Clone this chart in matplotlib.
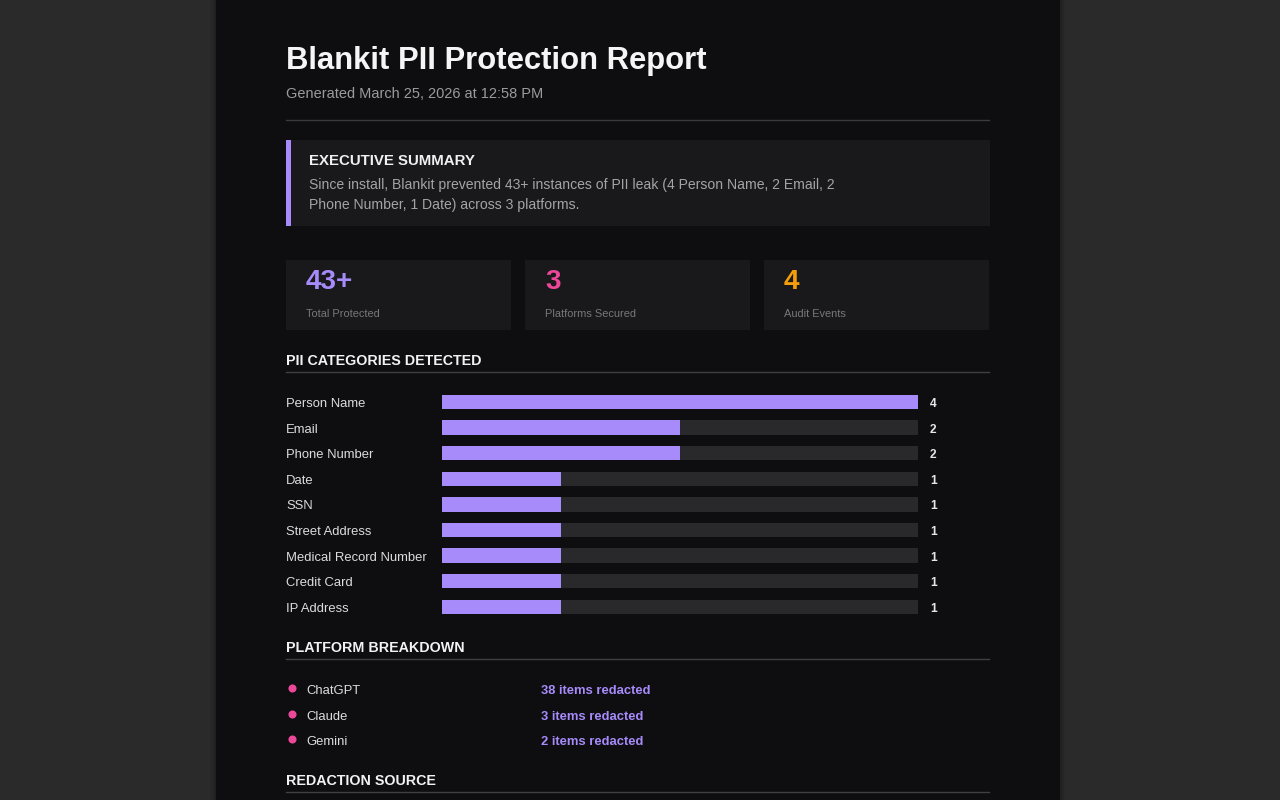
import matplotlib.pyplot as plt
from matplotlib.patches import Rectangle

plt.rcParams['font.family'] = ['Liberation Sans', 'DejaVu Sans']

# data
categories = ['Person Name', 'Email', 'Phone Number', 'Date', 'SSN', 'Street Address',
              'Medical Record Number', 'Credit Card', 'IP Address']
counts = [4, 2, 2, 1, 1, 1, 1, 1, 1]
stat_values = ['43+', '3', '4']
stat_labels = ['Total Protected', 'Platforms Secured', 'Audit Events']
platforms = ['ChatGPT', 'Claude', 'Gemini']
platform_items = [38, 3, 2]

# colours
OUTER = '#2a2a2a'
PANEL = '#0e0e11'
CARD = '#19191c'
PURPLE = '#a78bfa'
PINK = '#ec4899'
ORANGE = '#f59e0b'
TRACK = '#29292c'

W, H = 1280, 800
DY = 2  # small nudge so text centres sit where the browser put them
fig = plt.figure(figsize=(12.8, 8), dpi=100, facecolor=OUTER)
ax = fig.add_axes([0, 0, 1, 1])
ax.set_xlim(0, W)
ax.set_ylim(H, 0)
ax.axis('off')

def px(s):
    # css px -> points at 100 dpi
    return s * 0.72

def txt(x, y, s, size, color, bold=False):
    ax.text(x, y + DY, s, fontsize=px(size), color=color, va='center',
            fontweight='bold' if bold else 'normal')

# page panel with soft edge
for i, a in enumerate([0.10, 0.07, 0.04]):
    ax.add_patch(Rectangle((216 - 2 - 2 * i, 0), 844 + 4 + 4 * i, H, color='black', alpha=a, lw=0))
ax.add_patch(Rectangle((216, 0), 844, H, color=PANEL, lw=0))

L, R = 286, 989

# header
txt(L, 59, 'Blankit PII Protection Report', 31, '#f5f5f5', bold=True)
txt(L, 92, 'Generated March 25, 2026 at 12:58 PM', 14.5, '#9b9b9f')
ax.plot([L, R], [120, 120], color='#3a3a3e', lw=1)

# executive summary
ax.add_patch(Rectangle((L, 140), R - L + 1, 86, color=CARD, lw=0))
ax.add_patch(Rectangle((L, 140), 5, 86, color=PURPLE, lw=0))
txt(309, 159, 'EXECUTIVE SUMMARY', 15, '#f0f0f0', bold=True)
txt(309, 183, 'Since install, Blankit prevented 43+ instances of PII leak (4 Person Name, 2 Email, 2',
    14, '#a3a3a8')
txt(309, 203, 'Phone Number, 1 Date) across 3 platforms.', 14, '#a3a3a8')

# stat cards
card_x = [286, 525, 764]
stat_colors = [PURPLE, PINK, ORANGE]
for x0, v, lab, c in zip(card_x, stat_values, stat_labels, stat_colors):
    ax.add_patch(Rectangle((x0, 260), 225, 70, color=CARD, lw=0))
    txt(x0 + 20, 280, v, 28, c, bold=True)
    txt(x0 + 20, 312, lab, 11, '#77777c')

def section(y, title):
    txt(L, y - 1, title, 14.3, '#f2f2f2', bold=True)
    ax.plot([L, R], [y + 12, y + 12], color='#3f3f44', lw=1)

section(360, 'PII CATEGORIES DETECTED')

# bar chart axes positioned in pixels
row0, step = 402, 25.6
n = len(categories)
top = row0 - step / 2
bottom = row0 + step * (n - 0.5)
bx0, bx1 = 442, 918
bax = fig.add_axes([bx0 / W, 1 - bottom / H, (bx1 - bx0) / W, (bottom - top) / H])
bax.set_facecolor('none')
bax.axis('off')
vmax = max(counts)
ypos = list(range(n))
bax.barh(ypos, [vmax] * n, height=0.57, color=TRACK, lw=0)
bax.barh(ypos, counts, height=0.57, color=PURPLE, lw=0)
bax.set_xlim(0, vmax)
bax.set_ylim(n - 0.5, -0.5)
lab_x = (L - bx0) / (bx1 - bx0) * vmax
val_x = (930 - bx0) / (bx1 - bx0) * vmax
ty = DY / step
for i, (cat, c) in enumerate(zip(categories, counts)):
    bax.text(lab_x, i + ty, cat, fontsize=px(13), color='#dcdcdf', va='center', ha='left', clip_on=False)
    bax.text(val_x, i + ty, str(c), fontsize=px(12), fontweight='bold', color='#e6e6e6',
             va='center', ha='left', clip_on=False)

# platform breakdown
section(647, 'PLATFORM BREAKDOWN')
prow = [689, 715, 740]
ax.scatter([292] * len(platforms), [y - 1 for y in prow], s=34, color=PINK, lw=0)
for y, name, k in zip(prow, platforms, platform_items):
    txt(306, y, name, 13, '#dcdcdf')
    txt(541, y, f'{k} items redacted', 13, PURPLE, bold=True)

section(780, 'REDACTION SOURCE')

fig.savefig('out.png', dpi=100, facecolor=OUTER)
